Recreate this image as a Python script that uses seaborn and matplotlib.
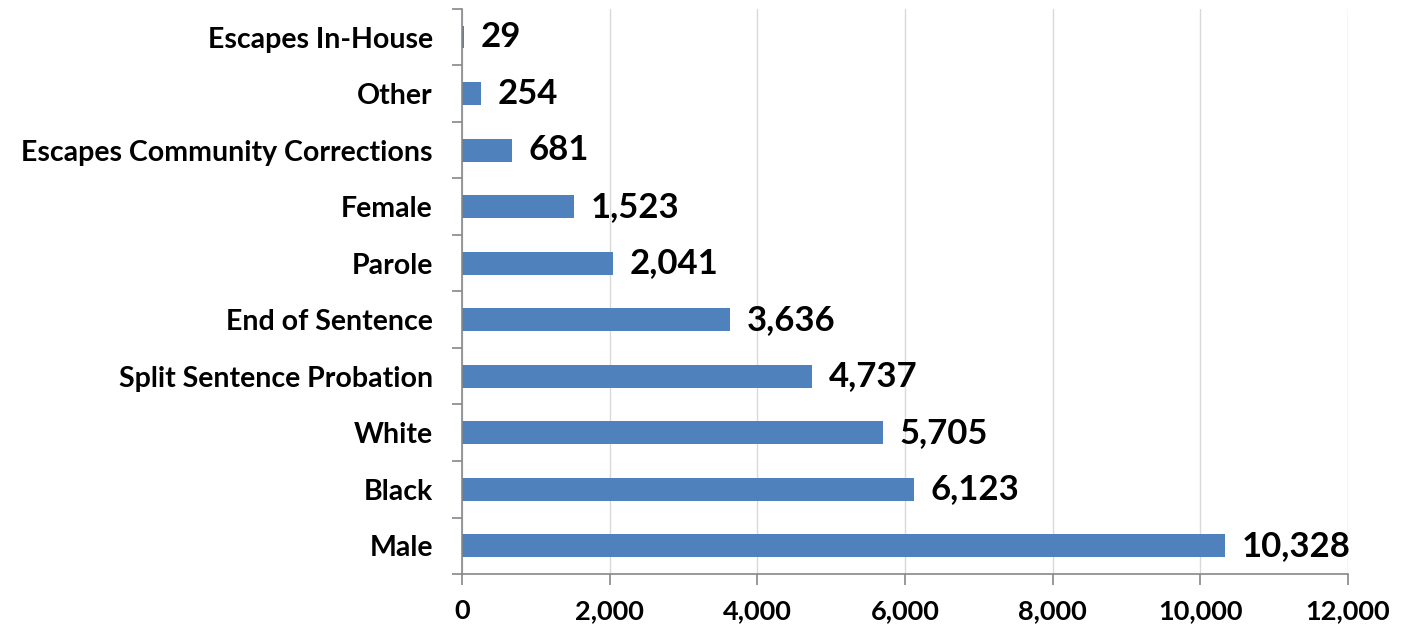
import matplotlib
matplotlib.use("Agg")
import matplotlib.pyplot as plt
from matplotlib.ticker import FixedLocator, FuncFormatter
import numpy as np
import pandas as pd
import seaborn as sns

categories = [
    "Escapes In-House",
    "Other",
    "Escapes Community Corrections",
    "Female",
    "Parole",
    "End of Sentence",
    "Split Sentence Probation",
    "White",
    "Black",
    "Male",
]
counts = [29, 254, 681, 1523, 2041, 3636, 4737, 5705, 6123, 10328]
x_ticks = [0, 2000, 4000, 6000, 8000, 10000, 12000]

df = pd.DataFrame({"category": categories, "count": counts})

sns.set_theme(style="white")
plt.rcParams["font.family"] = ["Lato", "DejaVu Sans"]

fig = plt.figure(figsize=(14.13, 6.38), dpi=100)
ax = fig.add_axes([0.327, 0.1003, 0.627, 0.8857])

sns.barplot(data=df, y="category", x="count", order=categories, orient="h",
            color="#4F81BD", saturation=1, width=0.4, ax=ax,
            edgecolor="#4F81BD", linewidth=0)

ax.set_xlim(x_ticks[0], x_ticks[-1])
ax.set_ylim(len(categories) - 0.5, -0.5)
ax.xaxis.set_major_locator(FixedLocator(x_ticks))
ax.xaxis.set_major_formatter(FuncFormatter(lambda v, p: f"{int(v):,}"))
ax.grid(axis="x", color="#D9D9D9", linewidth=1.0)
ax.set_axisbelow(True)

# category separators as outward ticks on the y axis
ax.yaxis.set_minor_locator(FixedLocator(np.arange(-0.5, len(categories), 1.0)))
ax.tick_params(axis="y", which="major", length=0, pad=21,
               labelsize=20.5, labelcolor="black")
ax.tick_params(axis="y", which="minor", length=7, width=1.2,
               color="#888888", direction="out", left=True)
ax.tick_params(axis="x", which="major", length=8, width=1.2,
               color="#888888", direction="out", bottom=True,
               labelsize=19.5, labelcolor="black", pad=10)
for lbl in ax.get_yticklabels() + ax.get_xticklabels():
    lbl.set_fontweight("bold")

for side in ["top", "right"]:
    ax.spines[side].set_visible(False)
for side in ["left", "bottom"]:
    ax.spines[side].set_color("#888888")
    ax.spines[side].set_linewidth(1.2)

ax.set_xlabel("")
ax.set_ylabel("")

for container in ax.containers:
    ax.bar_label(container, labels=[f"{v:,}" for v in counts], padding=12,
                 fontsize=25, fontweight="bold", color="black")

fig.savefig("out.png", dpi=100)
